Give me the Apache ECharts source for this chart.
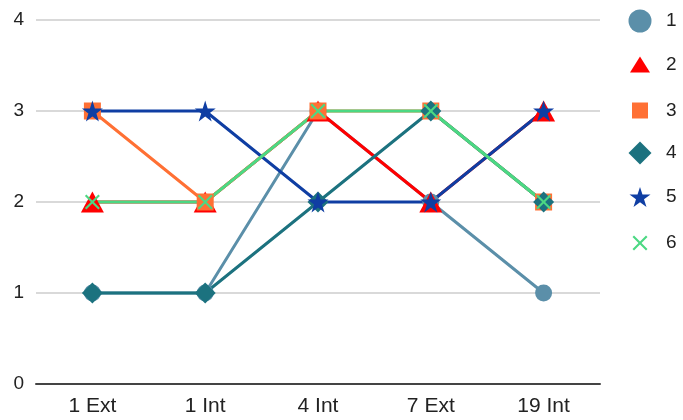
<!DOCTYPE html>
<html>
<head>
<meta charset="utf-8">
<script src="https://cdn.jsdelivr.net/npm/echarts@6/dist/echarts.min.js"></script>
<style>
  html, body { margin: 0; padding: 0; background: #fff; }
  #chart { width: 683px; height: 420px; }
</style>
</head>
<body>
<div id="chart"></div>
<script>
// Categories along the bottom axis
const categories = ['1 Ext', '1 Int', '4 Int', '7 Ext', '19 Int'];

// Series values (one array per series)
const seriesNames = ['1', '2', '3', '4', '5', '6'];
const s1 = [1, 1, 3, 2, 1];
const s2 = [2, 2, 3, 2, 3];
const s3 = [3, 2, 3, 3, 2];
const s4 = [1, 1, 2, 3, 2];
const s5 = [3, 3, 2, 2, 3];
const s6 = [2, 2, 3, 3, 2];
const values = [s1, s2, s3, s4, s5, s6];

// Y axis tick range
const yMin = 0, yMax = 4, yStep = 1;

const FONT = 'Liberation Sans, Arial, sans-serif';
const crossPath = 'path://M0,2 L2,0 L10,8 L18,0 L20,2 L12,10 L20,18 L18,20 L10,12 L2,20 L0,18 L8,10 Z';
const starPath = 'path://M50,0 L61.8,36.2 L100,36.2 L69.1,58.8 L80.9,95.1 L50,72.7 L19.1,95.1 L30.9,58.8 L0,36.2 L38.2,36.2 Z';

// Marker shape, plot size and legend icon size per series
const styles = [
  { color: '#5b8fa9', symbol: 'circle',   size: 17,       legendW: 23, legendH: 23 },
  { color: '#ff0000', symbol: 'triangle', size: [23, 21], legendW: 20, legendH: 16 },
  { color: '#ff7034', symbol: 'rect',     size: 17,       legendW: 16, legendH: 16 },
  { color: '#1c727f', symbol: 'diamond',  size: 21,       legendW: 23, legendH: 23 },
  { color: '#0f3ea3', symbol: starPath,   size: 21,       legendW: 21, legendH: 20 },
  { color: '#4cd883', symbol: crossPath,  size: 15,       legendW: 15, legendH: 15 }
];

const legendCenters = [21, 63, 109, 153, 197, 241];
const legendIconX = 640;

const series = seriesNames.map((name, i) => ({
  name: name,
  type: 'line',
  data: values[i],
  symbol: styles[i].symbol,
  symbolSize: styles[i].size,
  showSymbol: true,
  lineStyle: { color: styles[i].color, width: 3 },
  itemStyle: { color: styles[i].color },
  emphasis: { disabled: true },
  animation: false
}));

const legends = seriesNames.map((name, i) => ({
  data: [name],
  icon: styles[i].symbol,
  itemWidth: styles[i].legendW,
  itemHeight: styles[i].legendH,
  itemGap: 0,
  left: legendIconX - styles[i].legendW / 2,
  top: legendCenters[i] - styles[i].legendH / 2,
  padding: 0,
  selectedMode: false,
  textStyle: {
    fontFamily: FONT, fontSize: 19, color: '#222', lineHeight: 14,
    padding: [0, 0, 0, 26 - styles[i].legendW / 2 - 5]
  }
}));

const chart = echarts.init(document.getElementById('chart'), null, { renderer: 'canvas' });
chart.setOption({
  animation: false,
  backgroundColor: '#fff',
  grid: { left: 36, right: 83, top: 20, bottom: 36, containLabel: false },
  legend: legends,
  xAxis: {
    type: 'category',
    data: categories,
    boundaryGap: true,
    axisLine: { show: true, lineStyle: { color: '#444', width: 2 } },
    axisTick: { show: false },
    axisLabel: { fontFamily: FONT, fontSize: 21, color: '#222', margin: 12 }
  },
  yAxis: {
    type: 'value',
    min: yMin,
    max: yMax,
    interval: yStep,
    axisLine: { show: false },
    axisTick: { show: false },
    splitLine: { lineStyle: { color: '#cccccc', width: 1.5 } },
    axisLabel: { fontFamily: FONT, fontSize: 19, color: '#222', margin: 12 }
  },
  series: series
});
</script>
</body>
</html>
